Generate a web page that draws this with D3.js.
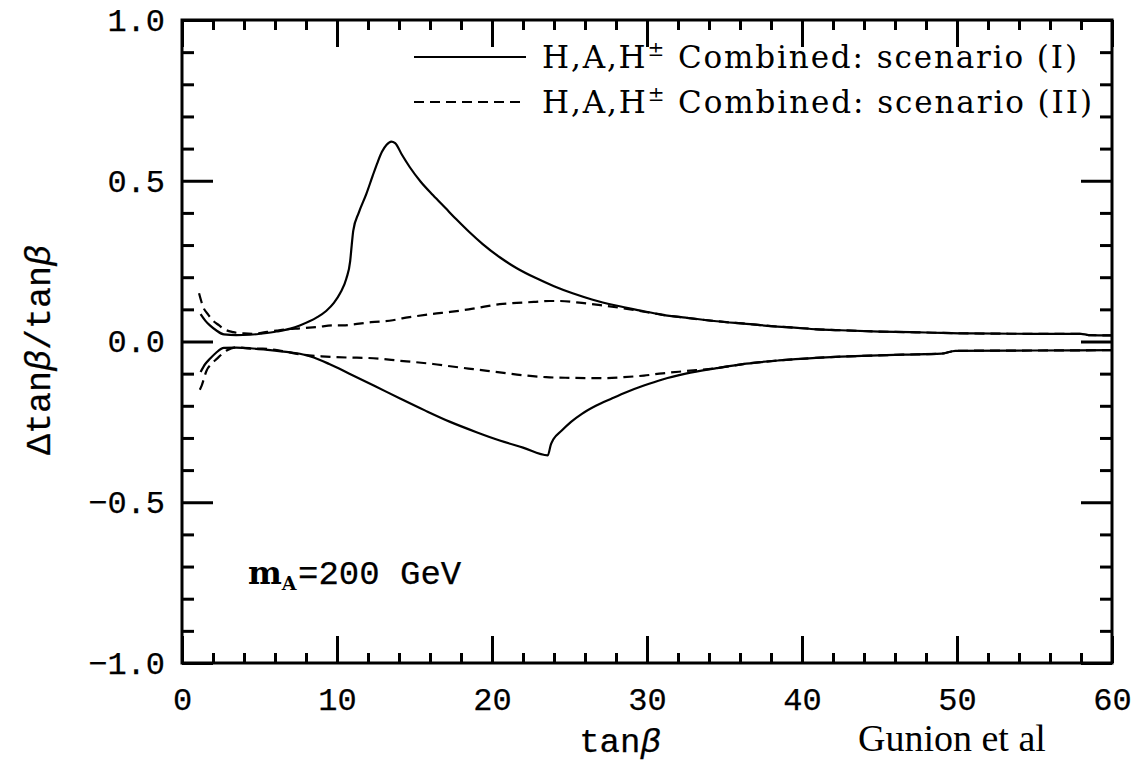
<!DOCTYPE html>
<html>
<head>
<meta charset="utf-8">
<script src="https://cdn.jsdelivr.net/npm/d3@7/dist/d3.min.js"></script>
<style>
  html, body { margin: 0; padding: 0; background: #fff; }
  svg { display: block; }
</style>
</head>
<body>
<script>
// Relative tan(beta) error bands, m_A = 200 GeV.  Each series is [tanβ, Δtanβ/tanβ].
const scenarioIUpper = [
  [1.2, 0.085], [1.5, 0.065], [1.8, 0.05], [2.2, 0.035], [2.7, 0.022], [3.5, 0.02],
  [4.4, 0.021], [5.2, 0.025], [6.1, 0.031], [7.0, 0.04], [7.6, 0.05], [8.7, 0.075],
  [9.3, 0.095], [9.8, 0.12], [10.2, 0.15], [10.6, 0.195], [10.85, 0.25], [10.95, 0.3],
  [11.05, 0.345], [11.4, 0.4], [11.9, 0.46], [12.3, 0.515], [12.6, 0.555], [12.9, 0.59],
  [13.2, 0.612], [13.5, 0.622], [13.75, 0.617], [14.2, 0.58], [14.7, 0.542], [15.4, 0.497],
  [16.2, 0.455], [17.0, 0.415], [17.7, 0.38], [18.5, 0.342], [19.4, 0.303], [20.5, 0.262],
  [21.6, 0.228], [22.8, 0.198], [24.0, 0.172], [25.2, 0.15], [26.5, 0.13], [28.0, 0.112],
  [29.5, 0.097], [31.0, 0.083], [32.5, 0.074], [34.5, 0.063], [36.4, 0.055], [38.0, 0.048],
  [39.5, 0.043], [41.0, 0.038], [42.5, 0.035], [45.0, 0.031], [48.0, 0.028], [51.0, 0.025],
  [55.0, 0.024], [58.0, 0.024], [58.5, 0.02], [60, 0.019]
];
const scenarioILower = [
  [1.2, -0.095], [1.5, -0.07], [1.8, -0.054], [2.2, -0.035], [2.7, -0.02], [3.5, -0.019],
  [4.4, -0.021], [5.5, -0.026], [7.0, -0.034], [7.6, -0.038], [8.5, -0.05], [9.5, -0.07],
  [10.8, -0.1], [12.5, -0.14], [14.1, -0.178], [15.7, -0.215], [17.3, -0.25], [19.0, -0.282],
  [20.5, -0.308], [22.0, -0.33], [23.6, -0.354], [23.8, -0.32], [23.95, -0.305], [24.5, -0.277],
  [25.1, -0.25], [25.8, -0.225], [26.7, -0.2], [27.7, -0.178], [28.7, -0.157], [29.8, -0.137],
  [31.0, -0.118], [32.5, -0.1], [34.5, -0.083], [36.4, -0.069], [38.5, -0.059], [40.9, -0.051],
  [42.5, -0.047], [44.4, -0.044], [46.5, -0.041], [49.0, -0.038], [49.9, -0.029], [55.0, -0.028],
  [60, -0.027]
];
const scenarioIIUpper = [
  [1.1, 0.15], [1.37, 0.107], [1.7, 0.083], [2.0, 0.065], [2.4, 0.05], [2.7, 0.039],
  [3.3, 0.029], [4.0, 0.025], [4.6, 0.024], [5.5, 0.03], [6.1, 0.034], [6.75, 0.038],
  [7.6, 0.041], [8.7, 0.045], [9.8, 0.05], [10.4, 0.05], [11.0, 0.053], [12.2, 0.06],
  [13.6, 0.066], [14.2, 0.072], [15.0, 0.078], [16.2, 0.086], [17.3, 0.092], [18.5, 0.1],
  [19.7, 0.11], [20.5, 0.116], [21.6, 0.12], [22.7, 0.123], [23.7, 0.126], [24.4, 0.126],
  [25.8, 0.12], [27.0, 0.113], [28.5, 0.103], [29.5, 0.095], [31.0, 0.083], [32.5, 0.074],
  [34.5, 0.063], [36.4, 0.055], [38.0, 0.048], [39.5, 0.043], [41.0, 0.038], [42.5, 0.035],
  [45.0, 0.031], [48.0, 0.028], [51.0, 0.025], [55.0, 0.024], [58.0, 0.024], [58.5, 0.02],
  [60, 0.019]
];
const scenarioIILower = [
  [1.15, -0.15], [1.27, -0.137], [1.59, -0.09], [1.9, -0.07], [2.24, -0.054], [2.88, -0.028],
  [3.5, -0.018], [4.4, -0.022], [5.2, -0.022], [6.5, -0.03], [7.6, -0.04], [9.0, -0.046],
  [10.8, -0.05], [11.9, -0.051], [14.1, -0.06], [16.2, -0.07], [17.3, -0.077], [18.8, -0.086],
  [20.5, -0.096], [22.0, -0.105], [23.5, -0.111], [25.0, -0.113], [27.1, -0.114], [28.5, -0.111],
  [29.8, -0.106], [31.0, -0.099], [32.5, -0.092], [34.5, -0.083], [36.4, -0.069], [38.5, -0.059],
  [40.9, -0.051], [42.5, -0.047], [44.4, -0.044], [46.5, -0.041], [49.0, -0.038], [49.9, -0.029],
  [55.0, -0.028], [60, -0.027]
];

const xMajorTicks = [0, 10, 20, 30, 40, 50, 60];
const xMinorTicks = d3.range(0, 61, 2).filter(v => v % 10 !== 0);
const yMajorTicks = [-1.0, -0.5, 0.0, 0.5, 1.0];
const yMinorTicks = d3.range(-10, 11).map(v => v / 10).filter(v => Math.abs(v * 2 - Math.round(v * 2)) > 1e-9);
const legendLabels = ["Combined: scenario (I)", "Combined: scenario (II)"];

const W = 1143, H = 764;
const margin = { left: 182, right: 1112, top: 20, bottom: 663 };

const svg = d3.select("body").append("svg").attr("width", W).attr("height", H);

const x = d3.scaleLinear().domain([0, 60]).range([margin.left, margin.right]);
const y = d3.scaleLinear().domain([-1, 1]).range([margin.bottom, margin.top]);

const monoFont = "'Liberation Mono', 'DejaVu Sans Mono', monospace";
const serifFont = "'DejaVu Serif', 'Liberation Serif', serif";

function styleAxis(g) {
  g.select(".domain").remove();
  g.selectAll(".tick line").attr("stroke", "#000").attr("stroke-width", 3);
  g.selectAll("text").attr("fill", "#000").attr("font-family", monoFont)
    .attr("font-size", 32).attr("stroke", "#000").attr("stroke-width", 0.25);
}

// bottom axis: labelled majors + minors, ticks pointing inward
svg.append("g").attr("transform", `translate(0,${margin.bottom})`)
  .call(d3.axisBottom(x).tickValues(xMajorTicks).tickFormat(d3.format("d"))
    .tickSizeInner(-27).tickSizeOuter(0).tickPadding(24))
  .call(styleAxis);
svg.append("g").attr("transform", `translate(0,${margin.bottom})`)
  .call(d3.axisBottom(x).tickValues(xMinorTicks).tickFormat("").tickSizeInner(-10).tickSizeOuter(0))
  .call(styleAxis);
// top axis
svg.append("g").attr("transform", `translate(0,${margin.top})`)
  .call(d3.axisTop(x).tickValues(xMajorTicks).tickFormat("").tickSizeInner(-27).tickSizeOuter(0))
  .call(styleAxis);
svg.append("g").attr("transform", `translate(0,${margin.top})`)
  .call(d3.axisTop(x).tickValues(xMinorTicks).tickFormat("").tickSizeInner(-10).tickSizeOuter(0))
  .call(styleAxis);
// left axis
svg.append("g").attr("transform", `translate(${margin.left},0)`)
  .call(d3.axisLeft(y).tickValues(yMajorTicks)
    .tickFormat(d => d3.format(".1f")(d).replace("-", "\u2212"))
    .tickSizeInner(-31).tickSizeOuter(0).tickPadding(17))
  .call(styleAxis);
svg.append("g").attr("transform", `translate(${margin.left},0)`)
  .call(d3.axisLeft(y).tickValues(yMinorTicks).tickFormat("").tickSizeInner(-12).tickSizeOuter(0))
  .call(styleAxis);
// right axis
svg.append("g").attr("transform", `translate(${margin.right},0)`)
  .call(d3.axisRight(y).tickValues(yMajorTicks).tickFormat("").tickSizeInner(-31).tickSizeOuter(0))
  .call(styleAxis);
svg.append("g").attr("transform", `translate(${margin.right},0)`)
  .call(d3.axisRight(y).tickValues(yMinorTicks).tickFormat("").tickSizeInner(-12).tickSizeOuter(0))
  .call(styleAxis);

// frame
svg.append("rect")
  .attr("x", margin.left).attr("y", margin.top)
  .attr("width", margin.right - margin.left).attr("height", margin.bottom - margin.top)
  .attr("fill", "none").attr("stroke", "#000").attr("stroke-width", 3);

// curves
const line = d3.line().x(d => x(d[0])).y(d => y(d[1])).curve(d3.curveMonotoneX);
const plot = svg.append("g");
const series = [
  { data: scenarioIUpper, dash: null },
  { data: scenarioILower, dash: null },
  { data: scenarioIIUpper, dash: "10,6" },
  { data: scenarioIILower, dash: "10,6" }
];
plot.selectAll("path.curve").data(series).join("path")
  .attr("class", "curve")
  .attr("d", d => line(d.data))
  .attr("fill", "none").attr("stroke", "#000").attr("stroke-width", 2.2)
  .attr("stroke-linejoin", "round")
  .attr("stroke-dasharray", d => d.dash);

// legend
const legendRows = [
  { label: legendLabels[0], dash: null, yy: 57, len: 535 },
  { label: legendLabels[1], dash: "10,6", yy: 102, len: 550 }
];
legendRows.forEach(r => {
  svg.append("line").attr("x1", 414).attr("x2", 526).attr("y1", r.yy).attr("y2", r.yy)
    .attr("stroke", "#000").attr("stroke-width", 2.2).attr("stroke-dasharray", r.dash);
  const t = svg.append("text").attr("x", 542).attr("y", r.yy + 11)
    .attr("font-family", serifFont).attr("font-size", 31).attr("fill", "#000")
    .attr("textLength", r.len).attr("lengthAdjust", "spacing");
  t.append("tspan").text("H,A,H");
  t.append("tspan").attr("dy", -12).attr("font-size", 20).text("\u00b1");
  t.append("tspan").attr("dy", 12).text(" " + r.label);
});

// m_A annotation
const ann = svg.append("text").attr("x", 248).attr("y", 584).attr("fill", "#000");
ann.append("tspan").attr("font-family", serifFont).attr("font-weight", "bold").attr("font-size", 32).text("m");
ann.append("tspan").attr("font-family", serifFont).attr("font-weight", "bold").attr("font-size", 19)
  .attr("dy", 6).text("A");
ann.append("tspan").attr("x", 298).attr("font-family", monoFont).attr("font-size", 34).attr("dy", -6)
  .attr("stroke", "#000").attr("stroke-width", 0.25).text("=200 GeV");

// axis titles
const xt = svg.append("text").attr("x", 620).attr("y", 752).attr("text-anchor", "middle")
  .attr("font-family", monoFont).attr("font-size", 34).attr("fill", "#000")
  .attr("stroke", "#000").attr("stroke-width", 0.25);
xt.append("tspan").text("tan");
xt.append("tspan").attr("font-style", "italic").text("\u03b2");

const yt = svg.append("text").attr("transform", "translate(50,350) rotate(-90)")
  .attr("text-anchor", "middle")
  .attr("font-family", monoFont).attr("font-size", 35).attr("fill", "#000")
  .attr("stroke", "#000").attr("stroke-width", 0.25);
yt.append("tspan").text("\u0394tan");
yt.append("tspan").attr("font-style", "italic").text("\u03b2");
yt.append("tspan").text("/tan");
yt.append("tspan").attr("font-style", "italic").text("\u03b2");

// credit
svg.append("text").attr("x", 858).attr("y", 751)
  .attr("font-family", "'Liberation Serif', 'Times New Roman', serif")
  .attr("font-size", 38).attr("fill", "#000").text("Gunion et al");
</script>
</body>
</html>
